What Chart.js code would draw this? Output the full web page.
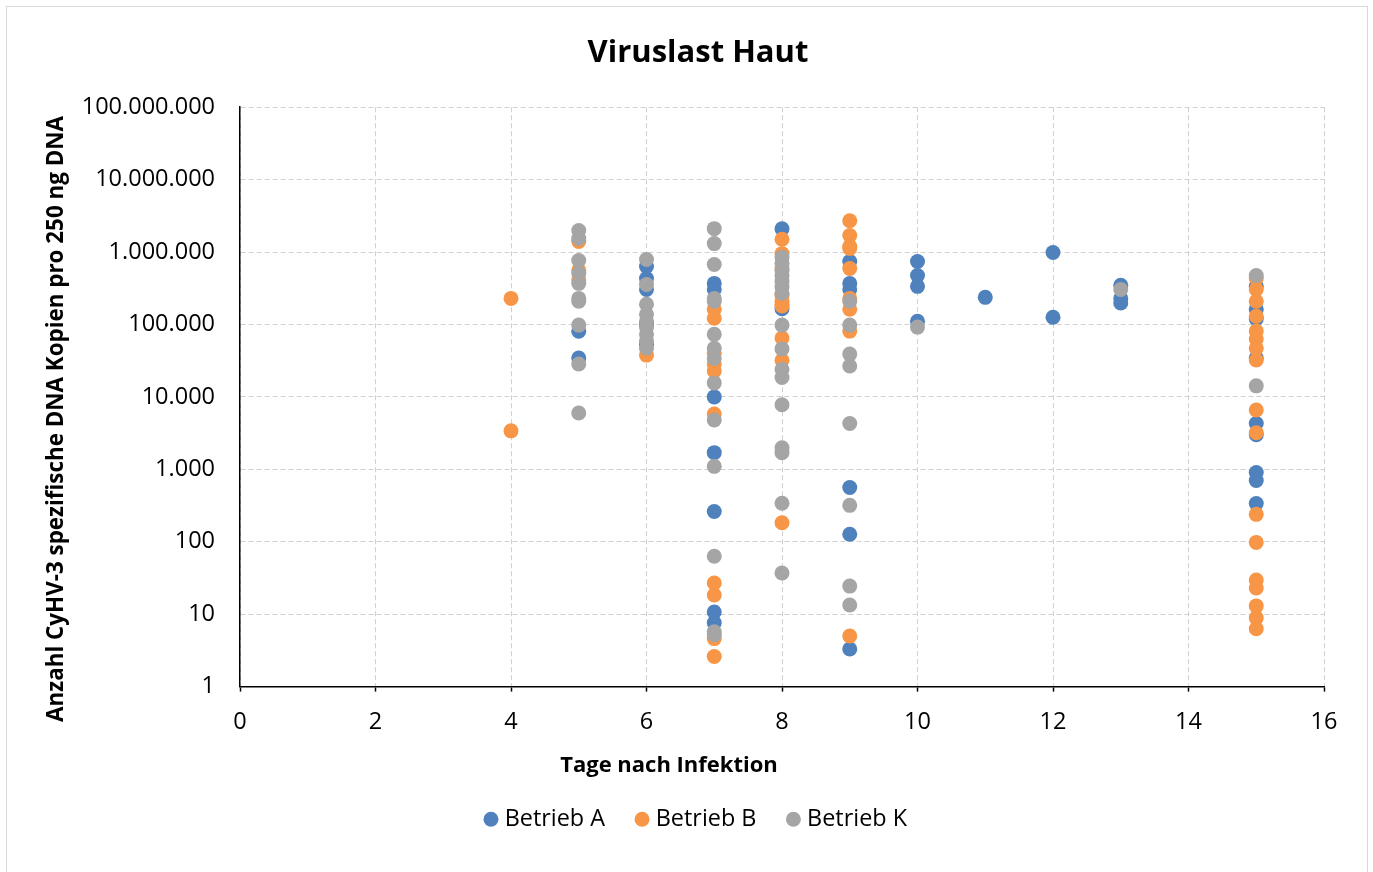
<!DOCTYPE html>
<html>
<head>
<meta charset="utf-8">
<title>Viruslast Haut</title>
<script src="https://cdn.jsdelivr.net/npm/chart.js@4.4.1/dist/chart.umd.min.js"></script>
<style>
    body { margin: 0; background: #fff; }
    #contenedor { position: relative; width: 1373px; height: 872px; }
    #marco { position: absolute; left: 6px; top: 6px; width: 1360px; height: 870px; border: 1px solid #d9d9d9; pointer-events: none; }
</style>
</head>
<body>
<div id="contenedor">
    <canvas id="canvasViruslast"></canvas>
    <div id="marco"></div>
</div>
<script>
// ticks del eje y (escala logarítmica)
const potencias = [1, 10, 100, 1000, 10000, 100000, 1000000, 10000000, 100000000];
const ticksX = [0, 2, 4, 6, 8, 10, 12, 14, 16];

// Betrieb A
const tageA = [5, 5,
    6, 6, 6, 6, 6,
    7, 7, 7, 7, 7, 7, 7,
    8, 8,
    9, 9, 9, 9, 9, 9,
    10, 10, 10, 10,
    11,
    12, 12,
    13, 13, 13,
    15, 15, 15, 15, 15, 15, 15, 15, 15];
const werteA = [80700, 34400,
    631000, 432000, 305000, 100000, 53000,
    369000, 305000, 10000, 1700, 262, 10.7, 7.6,
    2100000, 165000,
    741000, 369000, 305000, 561, 127, 3.3,
    741000, 475000, 336000, 111000,
    237000,
    985000, 126000,
    347000, 229000, 198000,
    336000, 162000, 120000, 34400, 4300, 3000, 902, 700, 338];

// Betrieb B
const tageB = [4, 4,
    5, 5, 5,
    6,
    7, 7, 7, 7, 7, 7, 7, 7, 7, 7,
    8, 8, 8, 8, 8, 8, 8, 8, 8, 8,
    9, 9, 9, 9, 9, 9, 9, 9, 9,
    15, 15, 15, 15, 15, 15, 15, 15, 15, 15, 15, 15, 15, 15, 15, 15, 15];
const werteB = [229000, 3400,
    1400000, 560000, 410000,
    37800,
    162000, 122000, 40000, 28400, 22800, 5800, 27, 18.4, 4.6, 2.6,
    1500000, 950000, 600000, 250000, 209000, 180000, 65000, 32000, 183, 190000,
    2710000, 1690000, 1190000, 1120000, 593000, 229000, 162000, 81000, 5.0,
    432000, 305000, 209000, 130000, 81000, 63000, 47000, 32300, 6600, 3200, 239, 98, 29.6, 23, 13, 8.9, 6.3];

// Betrieb K
const tageK = [5, 5, 5, 5, 5, 5, 5, 5, 5, 5,
    6, 6, 6, 6, 6, 6, 6, 6, 6,
    7, 7, 7, 7, 7, 7, 7, 7, 7, 7, 7, 7, 7, 7,
    8, 8, 8, 8, 8, 8, 8, 8, 8, 8, 8, 8, 8, 8, 8, 8,
    9, 9, 9, 9, 9, 9, 9, 9,
    10,
    13,
    15, 15];
const werteK = [1977000, 1535000, 764000, 510000, 370000, 229000, 209000, 98000, 28400, 6000,
    789000, 357000, 190000, 138000, 111000, 91000, 73000, 59000, 47000,
    2104000, 1309000, 672000, 229000, 209000, 73000, 47000, 34000, 15600, 4800, 1100, 63, 5.7, 5.2,
    850000, 700000, 560000, 470000, 390000, 330000, 270000, 98000, 46000, 24000, 18500, 7800, 1990, 1700, 340, 37,
    209000, 98000, 39000, 26700, 4300, 318, 24.4, 13.4,
    92000,
    305000,
    475000, 14200];

const nombresSeries = ['Betrieb A', 'Betrieb B', 'Betrieb K'];
const colores = ['#4f81bd', '#f79646', '#a5a5a5'];

function puntos(tage, werte) {
    return tage.map((t, i) => ({ x: t, y: werte[i] }));
}

function formatoAleman(v) {
    return String(v).replace(/\B(?=(\d{3})+(?!\d))/g, '.');
}

Chart.defaults.font.family = "'Open Sans', sans-serif";
Chart.defaults.color = '#000';

// titulos de ejes dibujados a mano (en Excel estan desplazados)
const titulosEjes = {
    id: 'titulosEjes',
    afterDraw(chart) {
        const ctx = chart.ctx;
        ctx.save();
        ctx.fillStyle = '#000';
        ctx.textAlign = 'center';
        ctx.textBaseline = 'middle';
        ctx.font = "bold 22px 'Open Sans', sans-serif";
        ctx.fillText('Tage nach Infektion', 669, 766);
        ctx.translate(57, 419);
        ctx.rotate(-Math.PI / 2);
        ctx.font = "bold 22.4px 'Open Sans', sans-serif";
        ctx.fillText('Anzahl CyHV-3 spezifische DNA Kopien pro 250 ng DNA', 0, 0);
        ctx.restore();
    }
};

const ctx = document.getElementById('canvasViruslast').getContext('2d');
const graficaViruslast = new Chart(ctx, {
    type: 'scatter',
    data: {
        datasets: [
            { label: nombresSeries[0], data: puntos(tageA, werteA), backgroundColor: colores[0], order: 3 },
            { label: nombresSeries[1], data: puntos(tageB, werteB), backgroundColor: colores[1], order: 2 },
            { label: nombresSeries[2], data: puntos(tageK, werteK), backgroundColor: colores[2], order: 1 }
        ]
    },
    options: {
        responsive: true,
        maintainAspectRatio: false,
        animation: false,
        elements: {
            point: { radius: 7.5, hoverRadius: 7.5, borderWidth: 0 }
        },
        layout: { padding: { left: 72, right: 49, top: 0, bottom: 31 } },
        plugins: {
            title: {
                display: true,
                text: 'Viruslast Haut',
                color: '#000',
                font: { size: 31, weight: 'bold' },
                padding: { top: 35, bottom: 35 }
            },
            legend: {
                position: 'bottom',
                labels: {
                    usePointStyle: true,
                    pointStyle: 'circle',
                    boxWidth: 4,
                    boxHeight: 10.6,
                    padding: 35,
                    color: '#000',
                    font: { size: 23.4 },
                    sort: (a, b) => a.datasetIndex - b.datasetIndex
                }
            },
            tooltip: { enabled: false }
        },
        scales: {
            x: {
                type: 'linear',
                min: 0,
                max: 16,
                afterBuildTicks: (scale) => { scale.ticks = ticksX.map(v => ({ value: v })); },
                afterFit: (scale) => { scale.height = 86; },
                ticks: { font: { size: 23.5 }, padding: 17, color: '#000' },
                grid: {
                    color: '#d0d0d0',
                    lineWidth: 1,
                    drawTicks: true,
                    tickLength: 5,
                    tickColor: '#000',
                    tickWidth: 1.5,
                    tickBorderDash: []
                },
                border: { display: true, color: '#000', width: 1.5, dash: [5, 3] }
            },
            y: {
                type: 'logarithmic',
                min: 1,
                max: 100000000,
                afterBuildTicks: (scale) => { scale.ticks = potencias.map(v => ({ value: v })); },
                afterFit: (scale) => { scale.width = 240 - 72; },
                ticks: {
                    font: { size: 23.5 },
                    padding: 25,
                    color: '#000',
                    callback: (v) => formatoAleman(v)
                },
                grid: {
                    color: '#d0d0d0',
                    lineWidth: 1,
                    drawTicks: false
                },
                border: { display: true, color: '#000', width: 1.5, dash: [5, 3] }
            }
        }
    },
    plugins: [titulosEjes]
});
</script>
</body>
</html>
